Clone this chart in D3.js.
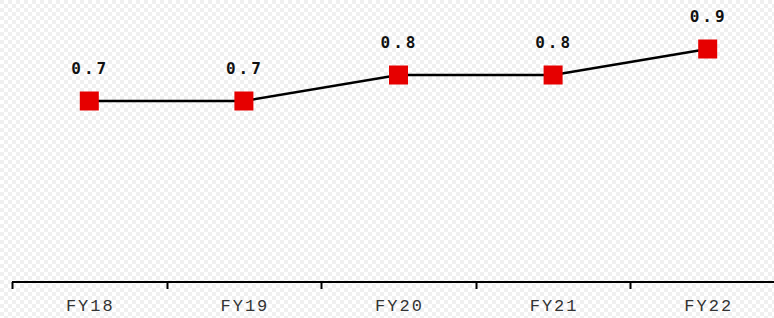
<!DOCTYPE html>
<html>
<head>
<meta charset="utf-8">
<script src="https://cdn.jsdelivr.net/npm/d3@7"></script>
<style>
  body { margin: 0; background: #fff; }
  svg { display: block; }
</style>
</head>
<body>
<div id="chart"></div>
<script>
// data
var years = ["FY18", "FY19", "FY20", "FY21", "FY22"];
var values = [0.7, 0.7, 0.8, 0.8, 0.9];
var yDomain = [0, 1];

var width = 774, height = 318;

var svg = d3.select("#chart")
    .append("svg")
    .attr("width", width)
    .attr("height", height);

// faint lattice in the background
var pat = svg.append("defs").append("pattern")
    .attr("id", "lattice")
    .attr("width", 16)
    .attr("height", 16)
    .attr("patternUnits", "userSpaceOnUse");
pat.append("rect").attr("width", 16).attr("height", 16).attr("fill", "#fff");
[[0,0],[4,4],[8,8],[12,4],[4,12],[12,12],[8,0],[0,8]].forEach(function (p) {
    pat.append("rect")
        .attr("x", p[0]).attr("y", p[1])
        .attr("width", 4).attr("height", 4)
        .attr("fill", "#f0f0f0");
});
svg.append("rect")
    .attr("width", width)
    .attr("height", height)
    .attr("fill", "url(#lattice)");

var x = d3.scaleBand()
    .domain(years)
    .range([12, 785]);

var y = d3.scaleLinear()
    .domain(yDomain)
    .range([283, 23]);

// x axis: ticks sit on band edges, labels in band middle
var axis = svg.append("g");
axis.append("line")
    .attr("x1", 12).attr("x2", width)
    .attr("y1", 282).attr("y2", 282)
    .attr("stroke", "#000")
    .attr("stroke-width", 2);

axis.selectAll(".tick")
    .data(years)
    .enter().append("line")
    .attr("x1", function (d) { return Math.round(x(d)) + 0.5; })
    .attr("x2", function (d) { return Math.round(x(d)) + 0.5; })
    .attr("y1", 282)
    .attr("y2", 289)
    .attr("stroke", "#000")
    .attr("stroke-width", 2);

axis.selectAll(".label")
    .data(years)
    .enter().append("text")
    .attr("x", function (d) { return x(d) + x.bandwidth() / 2 + 1; })
    .attr("y", 311)
    .attr("text-anchor", "middle")
    .attr("font-family", "'Liberation Mono', monospace")
    .attr("font-size", "17px")
    .attr("letter-spacing", "2px")
    .attr("fill", "#333")
    .text(function (d) { return d; });

var line = d3.line()
    .x(function (d, i) { return x(years[i]) + x.bandwidth() / 2; })
    .y(function (d) { return y(d); });

svg.append("path")
    .datum(values)
    .attr("d", line)
    .attr("fill", "none")
    .attr("stroke", "#000")
    .attr("stroke-width", 2.5);

var pts = svg.selectAll(".pt")
    .data(values)
    .enter().append("g");

pts.append("rect")
    .attr("x", function (d, i) { return x(years[i]) + x.bandwidth() / 2 - 9.5; })
    .attr("y", function (d) { return y(d) - 9.5; })
    .attr("width", 19)
    .attr("height", 19)
    .attr("fill", "#e60000");

pts.append("text")
    .attr("x", function (d, i) { return x(years[i]) + x.bandwidth() / 2 + 1; })
    .attr("y", function (d) { return y(d) - 27; })
    .attr("text-anchor", "middle")
    .attr("font-family", "'DejaVu Sans Mono', monospace")
    .attr("font-weight", "bold")
    .attr("font-size", "16px")
    .attr("letter-spacing", "3px")
    .attr("fill", "#111")
    .text(function (d) { return d.toFixed(1); });
</script>
</body>
</html>
